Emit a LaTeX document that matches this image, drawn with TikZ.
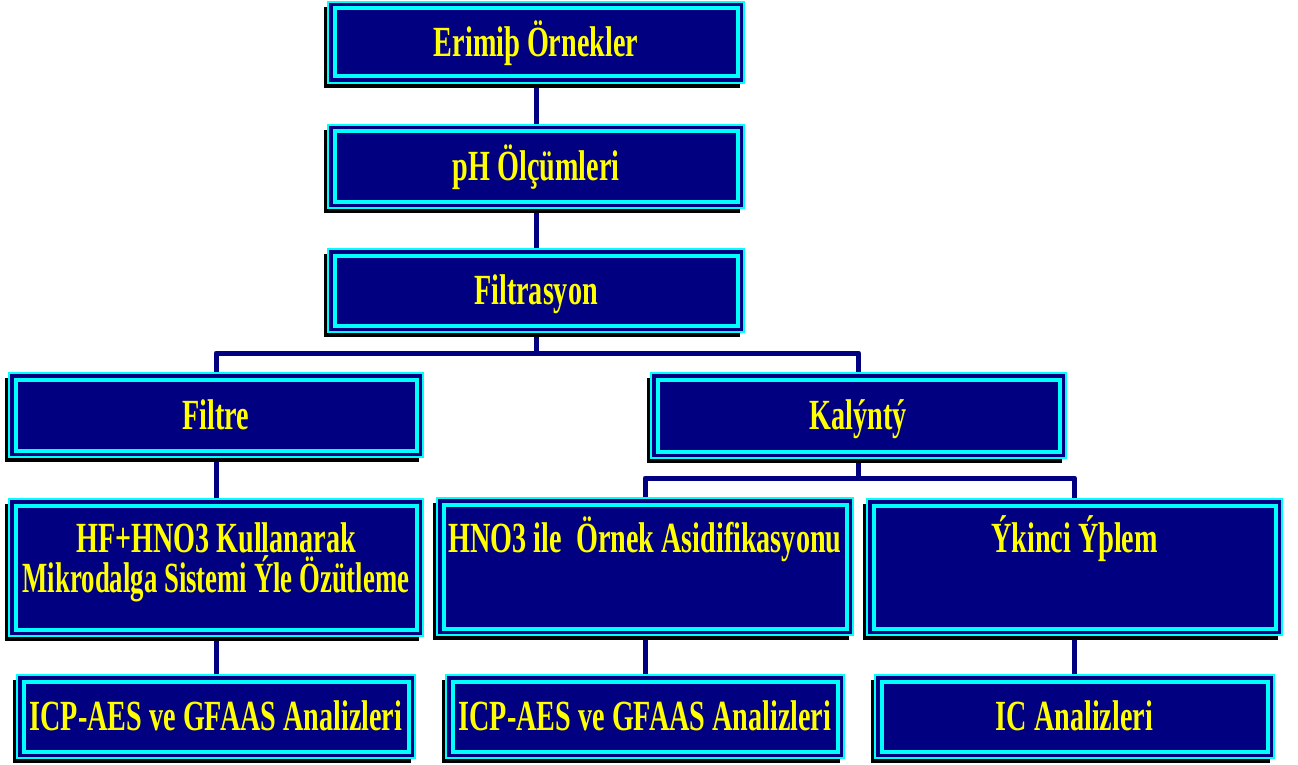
\documentclass[tikz,border=0pt]{standalone}
\usepackage{fontspec}
\setmainfont{Liberation Serif}[FakeStretch=0.655]
\usetikzlibrary{shadows,backgrounds,calc}
\definecolor{navy}{HTML}{000080}
\definecolor{cyanb}{HTML}{00FFFF}
\definecolor{yel}{HTML}{FFFF00}
\tikzset{
  bx/.style={draw=cyanb, line width=1.5pt, fill=navy, inner sep=0pt, text=yel,
    font=\bfseries\fontsize{43}{40}\selectfont, text height=28pt, text depth=0pt,
    general shadow={fill=black, shadow xshift=-4pt, shadow yshift=-5pt},
    path picture={\draw[cyanb, line width=4pt]
      ([shift={(6.5,6.5)}]path picture bounding box.north west) rectangle
      ([shift={(-6.5,-6.5)}]path picture bounding box.south east);}},
  txt/.style={text=yel, font=\bfseries\fontsize{43}{40}\selectfont, inner sep=0pt, anchor=base},
  conn/.style={draw=navy, line width=5pt, line join=round}
}
\newcommand\mybox[6]{\node[bx, minimum width={#4-#2}, minimum height={#5-#3}] (#1) at ({(#2+#4)/2},{(#3+#5)/2}) {#6};}
\begin{document}
\begin{tikzpicture}[x=1pt,y=-1pt]
\useasboundingbox (0,0) rectangle (1298,765);
\begin{scope}[on background layer]
  \fill[white] (0,0) rectangle (1298,765);
\end{scope}
\mybox{e1}{328}{2}{744}{83}{Erimiþ Örnekler}
\mybox{ph}{328}{125}{744}{208}{pH Ölçümleri}
\mybox{fil}{328}{249}{744}{332}{Filtrasyon}
\mybox{ftr}{9}{373}{423}{457}{Filtre}
\mybox{kal}{651}{373}{1066}{458}{Kalýntý}
\mybox{hf}{9}{499}{423}{636}{}
\mybox{hno}{437}{498}{853}{635}{}
\mybox{iki}{867}{499}{1282}{635}{}
\mybox{icp1}{17}{675}{415}{758}{ICP-AES ve GFAAS Analizleri}
\mybox{icp2}{446}{675}{844}{758}{ICP-AES ve GFAAS Analizleri}
\mybox{ic}{875}{675}{1274}{758}{IC Analizleri}
\node[txt] (hf1) at ($(hf.north)+(0,54)$) {HF+HNO3 Kullanarak};
\node[txt, xscale=0.95, transform shape] (hf2) at ($(hf.north)+(0,94)$) {Mikrodalga Sistemi Ýle Özütleme};
\node[txt] (hno1) at ($(hno.north)+(0,55)$) {HNO3 ile~ Örnek Asidifikasyonu};
\node[txt] (iki1) at ($(iki.north)+(0,54)$) {Ýkinci Ýþlem};
\begin{scope}[on background layer]
  \coordinate (j1) at (536,353);
  \coordinate (j2) at (858.5,478);
  \draw[conn] (e1.south) -- (ph.north);
  \draw[conn] (ph.south) -- (fil.north);
  \draw[conn] (fil.south) -- (j1);
  \draw[conn] (ftr.north) |- (j1) -| (kal.north);
  \draw[conn] (ftr.south) -- (hf.north);
  \draw[conn] (hf.south) -- (icp1.north);
  \draw[conn] (kal.south) -- (j2);
  \draw[conn] (hno.north) |- (j2) -| (iki.north);
  \draw[conn] (hno.south) -- (icp2.north);
  \draw[conn] (iki.south) -- (ic.north);
\end{scope}
\end{tikzpicture}
\end{document}
